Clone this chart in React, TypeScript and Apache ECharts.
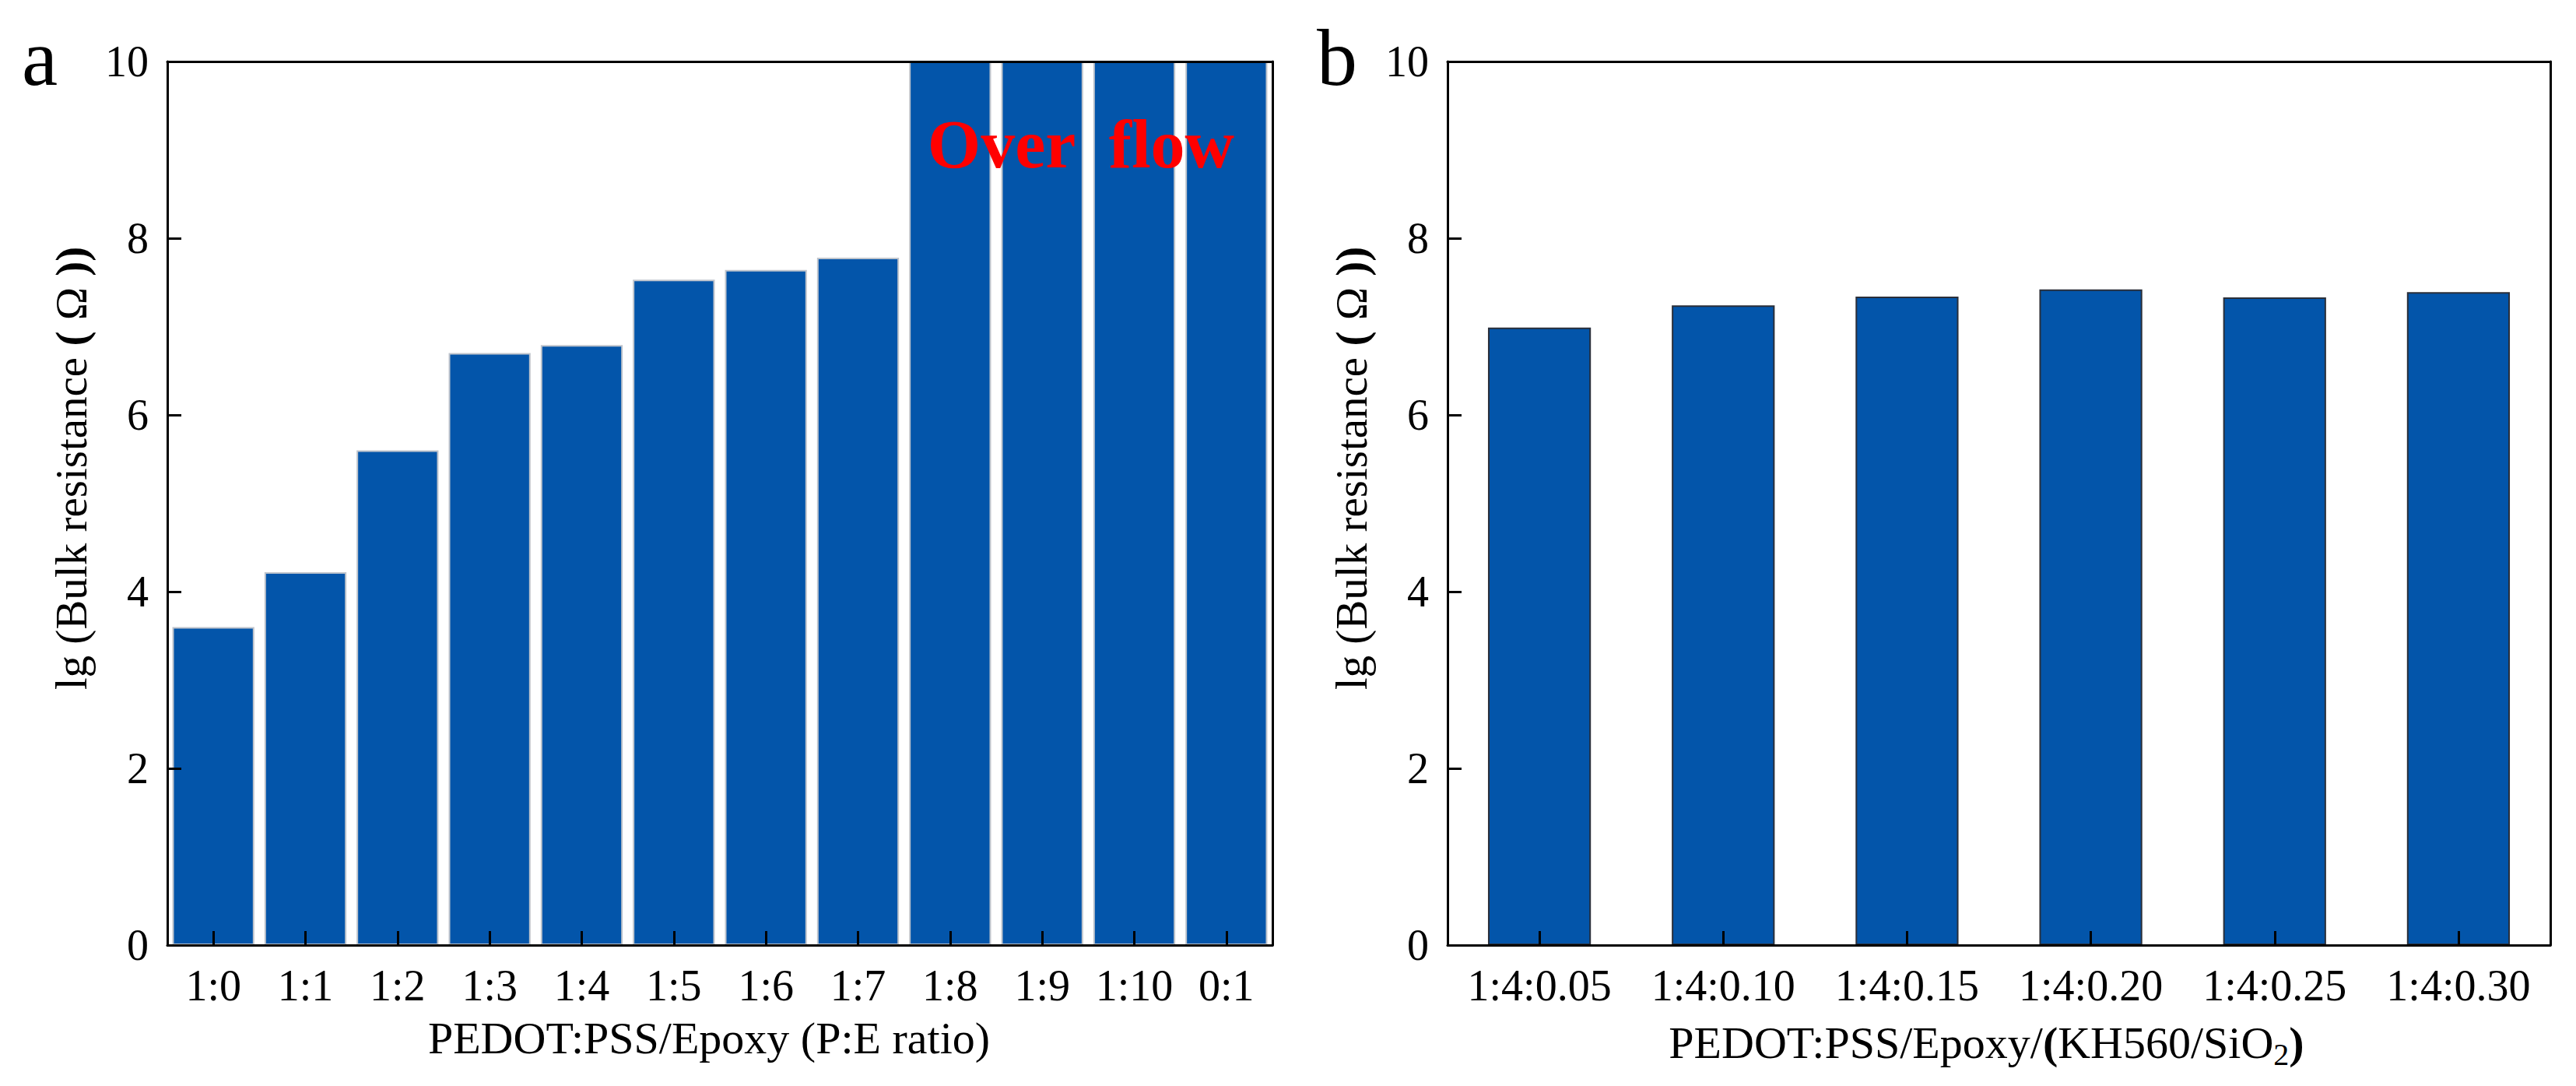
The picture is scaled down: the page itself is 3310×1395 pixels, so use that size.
import React, { useEffect, useRef } from 'react'
import * as echarts from 'echarts'

// panel a: PEDOT:PSS / Epoxy ratio
const CATS_A = ['1:0', '1:1', '1:2', '1:3', '1:4', '1:5', '1:6', '1:7', '1:8', '1:9', '1:10', '0:1']
const VALUES_A = [3.6, 4.22, 5.6, 6.7, 6.79, 7.53, 7.64, 7.78, 10, 10, 10, 10]

// panel b: PEDOT:PSS / Epoxy / (KH560/SiO2)
const CATS_B = ['1:4:0.05', '1:4:0.10', '1:4:0.15', '1:4:0.20', '1:4:0.25', '1:4:0.30']
const VALUES_B = [6.99, 7.24, 7.34, 7.42, 7.33, 7.39]

const Y_MIN = 0
const Y_MAX = 10
const Y_STEP = 2

const FONT = '"Liberation Serif", "Times New Roman", serif'
const BAR_BLUE = '#0355aa'

const line = { show: true, onZero: false, lineStyle: { color: '#000', width: 3 } }

const yName = {
  name: 'lg (Bulk resistance {b|(} Ω {b|))}',
  nameLocation: 'middle' as const,
  nameGap: 95,
  nameTextStyle: {
    fontFamily: FONT,
    fontSize: 57,
    color: '#000',
    padding: [0, 0, 0, 90],
    rich: { b: { fontFamily: FONT, fontSize: 57, fontWeight: 'bold', color: '#000' } },
  },
}

function bottomX(grid: number, data: string[], name: string, shift: number) {
  return {
    type: 'category',
    gridIndex: grid,
    data,
    position: 'bottom',
    z: 10,
    axisLine: line,
    axisTick: {
      show: true,
      inside: true,
      alignWithLabel: true,
      interval: 0,
      length: 18,
      lineStyle: { color: '#000', width: 3 },
    },
    axisLabel: { interval: 0, fontFamily: FONT, fontSize: 56, color: '#000', margin: 24 },
    name,
    nameLocation: 'middle',
    nameGap: 90,
    nameTextStyle: {
      fontFamily: FONT,
      fontSize: 58,
      color: '#000',
      padding: [0, shift, 0, 0],
      rich: {
        sub: { fontFamily: FONT, fontSize: 40, color: '#000', verticalAlign: 'bottom', padding: [30, 0, 0, 0] },
        b: { fontFamily: FONT, fontSize: 58, fontWeight: 'bold', color: '#000' },
      },
    },
  }
}

function topX(grid: number, data: string[]) {
  return {
    type: 'category',
    gridIndex: grid,
    data,
    position: 'top',
    z: 10,
    axisLine: line,
    axisTick: { show: false },
    axisLabel: { show: false },
  }
}

function leftY(grid: number) {
  return {
    type: 'value',
    gridIndex: grid,
    min: Y_MIN,
    max: Y_MAX,
    interval: Y_STEP,
    position: 'left',
    z: 10,
    axisLine: line,
    axisTick: { show: true, inside: true, length: 18, lineStyle: { color: '#000', width: 3 } },
    axisLabel: { fontFamily: FONT, fontSize: 56, color: '#000', margin: 24 },
    splitLine: { show: false },
    ...yName,
  }
}

function rightY(grid: number) {
  return {
    type: 'value',
    gridIndex: grid,
    min: Y_MIN,
    max: Y_MAX,
    interval: Y_STEP,
    position: 'right',
    z: 10,
    axisLine: line,
    axisTick: { show: false },
    axisLabel: { show: false },
    splitLine: { show: false },
  }
}

export default function App() {
  const ref = useRef<HTMLDivElement>(null)

  useEffect(() => {
    if (!ref.current) return
    const chart = echarts.init(ref.current, undefined, { renderer: 'svg' })
    chart.setOption({
      animation: false,
      backgroundColor: '#fff',
      grid: [
        { left: 215, top: 79, width: 1420, height: 1135 },
        { left: 1860, top: 79, width: 1417, height: 1135 },
      ],
      xAxis: [
        bottomX(0, CATS_A, 'PEDOT:PSS/Epoxy (P:E ratio)', 28),
        topX(0, CATS_A),
        bottomX(1, CATS_B, 'PEDOT:PSS/Epoxy/{b|(}KH560/SiO{sub|2}{b|)}', 32),
        topX(1, CATS_B),
      ],
      yAxis: [leftY(0), rightY(0), leftY(1), rightY(1)],
      series: [
        {
          type: 'bar',
          xAxisIndex: 0,
          yAxisIndex: 0,
          data: VALUES_A,
          barCategoryGap: '11%',
          itemStyle: { color: BAR_BLUE, borderColor: '#bfc4cc', borderWidth: 2 },
        },
        {
          type: 'bar',
          xAxisIndex: 2,
          yAxisIndex: 2,
          data: VALUES_B,
          barCategoryGap: '44%',
          itemStyle: { color: BAR_BLUE, borderColor: '#2a2f3a', borderWidth: 2 },
        },
      ],
      graphic: [
        {
          type: 'text',
          x: 28,
          y: 73,
          z: 20,
          style: { text: 'a', font: `104px ${FONT}`, fill: '#000', align: 'left', verticalAlign: 'middle' },
        },
        {
          type: 'text',
          x: 1692,
          y: 73,
          z: 20,
          style: { text: 'b', font: `104px ${FONT}`, fill: '#000', align: 'left', verticalAlign: 'middle' },
        },
        {
          type: 'text',
          x: 1389,
          y: 185,
          z: 20,
          style: {
            text: 'Over  flow',
            font: `bold 88px ${FONT}`,
            fill: '#ff0000',
            align: 'center',
            verticalAlign: 'middle',
          },
        },
      ],
    })
    return () => chart.dispose()
  }, [])

  return (
    <div
      ref={ref}
      style={{ position: 'absolute', left: 0, top: 0, width: 3310, height: 1395, background: '#fff' }}
    />
  )
}
